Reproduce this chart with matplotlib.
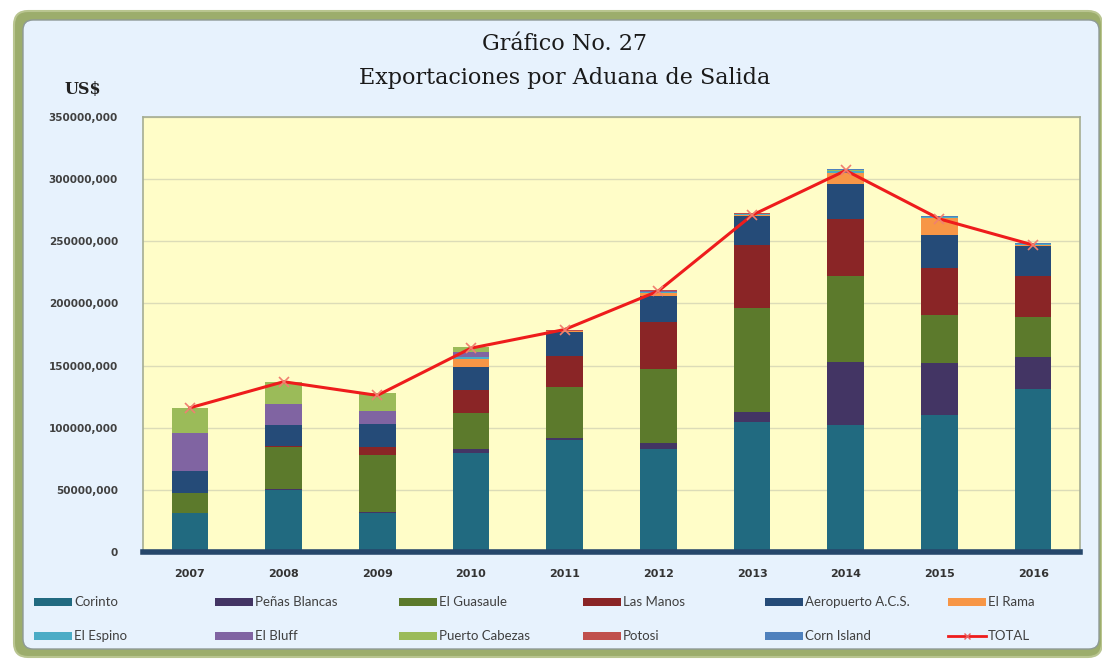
import numpy as np
import matplotlib
matplotlib.use("Agg")
import matplotlib.pyplot as plt
from matplotlib.patches import FancyBboxPatch, Rectangle
from matplotlib.lines import Line2D
from matplotlib.transforms import IdentityTransform

# Years and customs offices (values in millions of US$)
years = ["2007", "2008", "2009", "2010", "2011", "2012", "2013", "2014", "2015", "2016"]

corinto        = [31.0, 49.5, 31.2, 79.5, 90.2, 82.7, 104.9, 102.3, 110.3, 131.0]
penas_blancas  = [0.5, 0.8, 1.3, 3.2, 1.3, 4.8, 8.0, 50.9, 41.6, 25.8]
el_guasaule    = [16.0, 34.5, 45.6, 29.0, 41.1, 59.6, 83.3, 69.0, 38.9, 32.2]
las_manos      = [0.3, 0.5, 6.7, 18.7, 24.7, 38.3, 51.0, 45.7, 37.6, 33.2]
aeropuerto     = [17.0, 16.5, 18.3, 18.8, 20.1, 20.7, 22.8, 28.4, 26.8, 23.7]
el_rama        = [0.0, 0.0, 0.0, 5.9, 0.4, 2.5, 1.2, 8.6, 13.5, 1.2]
el_espino      = [0.2, 0.2, 0.2, 1.5, 0.3, 0.8, 0.5, 1.5, 0.5, 0.4]
el_bluff       = [31.0, 17.0, 10.5, 4.5, 0.0, 0.3, 0.2, 0.3, 0.2, 0.2]
puerto_cabezas = [20.0, 17.5, 14.0, 3.5, 0.0, 0.5, 0.2, 0.3, 0.2, 0.2]
potosi         = [0.0, 0.2, 0.0, 0.3, 0.2, 0.4, 0.3, 0.4, 0.3, 0.3]
corn_island    = [0.1, 0.2, 0.3, 0.3, 0.5, 0.5, 0.5, 1.0, 0.3, 0.5]
total          = [116.0, 137.0, 126.0, 164.0, 179.0, 210.0, 271.0, 307.0, 268.0, 247.0]

series_names = ["Corinto", "Peñas Blancas", "El Guasaule", "Las Manos", "Aeropuerto A.C.S.",
                "El Rama", "El Espino", "El Bluff", "Puerto Cabezas", "Potosi", "Corn Island"]
series_vals = [corinto, penas_blancas, el_guasaule, las_manos, aeropuerto, el_rama,
               el_espino, el_bluff, puerto_cabezas, potosi, corn_island]
colors = ["#216A80", "#433564", "#5C7A2C", "#8A2526", "#254B78", "#F79646",
          "#4BACC6", "#8064A2", "#9BBB59", "#C0504D", "#4F81BD"]

yticks = [0, 50, 100, 150, 200, 250, 300, 350]
ytick_labels = ["0", "50000,000", "100000,000", "150000,000", "200000,000",
                "250000,000", "300000,000", "350000,000"]

fig = plt.figure(figsize=(11.02, 6.59), dpi=100)
fig.patch.set_facecolor("white")

# outer rounded frame (pixel coordinates), kept behind the axes
fig.patches.append(FancyBboxPatch((14, 2), 1088, 646, boxstyle="round,pad=0,rounding_size=14",
                                  transform=IdentityTransform(), facecolor="#9CAD6C",
                                  edgecolor="#B9C590", linewidth=1.5, zorder=-10))
fig.patches.append(FancyBboxPatch((23, 10), 1076, 629, boxstyle="round,pad=0,rounding_size=10",
                                  transform=IdentityTransform(), facecolor="#E7F2FD",
                                  edgecolor="#8E9A96", linewidth=1.0, zorder=-9))

ax = fig.add_axes([143 / 1102, 1 - 552 / 659, 937 / 1102, 435 / 659])
ax.set_facecolor("#FFFDC8")

x = np.arange(len(years))
bottom = np.zeros(len(years))
for name, vals, c in zip(series_names, series_vals, colors):
    ax.bar(x, vals, 0.39, bottom=bottom, color=c, label=name, zorder=2)
    bottom += np.array(vals)

ax.plot(x, total, color="#EE1C1C", linewidth=2.2, marker="x", markersize=7,
        markeredgecolor="#F08070", markeredgewidth=1.2, zorder=3)

ax.set_xlim(-0.5, len(years) - 0.5)
ax.set_ylim(0, 350)
ax.set_yticks(yticks)
ax.set_yticklabels(ytick_labels, fontsize=7.5, fontweight="bold", color="#404040")
ax.set_xticks(x)
ax.set_xticklabels(years, fontsize=8, fontweight="bold", color="#333333")
ax.tick_params(length=0)
ax.tick_params(axis="y", pad=18)
ax.tick_params(axis="x", pad=12)
ax.grid(axis="y", color="#DCDCB8", linewidth=1.0, zorder=0)
ax.set_axisbelow(True)
for s in ["left", "top", "right"]:
    ax.spines[s].set_color("#A5AD92")
    ax.spines[s].set_linewidth(1.2)
ax.spines["bottom"].set_color("#26476B")
ax.spines["bottom"].set_linewidth(4)

# titles
fig.text(565 / 1102, 1 - 44 / 659, "Gráfico No. 27", ha="center", va="center",
         family="DejaVu Serif", fontsize=16, color="#1A1A1A")
fig.text(565 / 1102, 1 - 78 / 659, "Exportaciones por Aduana de Salida", ha="center", va="center",
         family="DejaVu Serif", fontsize=16, color="#1A1A1A")
fig.text(83 / 1102, 1 - 89 / 659, "US$", ha="center", va="center",
         family="DejaVu Serif", fontsize=11.5, fontweight="bold", color="#222222")

# legend laid out in two rows of six, like the original
leg_names = series_names + ["TOTAL"]
leg_colors = colors + ["#EE1C1C"]
col_x = [34, 215, 399, 583, 765, 948]
row_y = [602, 636]
for i, (name, c) in enumerate(zip(leg_names, leg_colors)):
    px = col_x[i % 6]
    py = row_y[i // 6]
    if name == "TOTAL":
        fig.add_artist(Line2D([px / 1102, (px + 19) / 1102, (px + 38) / 1102],
                              [1 - py / 659] * 3, color=c, linewidth=2, marker="x",
                              markevery=[1], markersize=5, markeredgecolor="#E86060"))
    else:
        fig.add_artist(Rectangle((px / 1102, 1 - (py + 4) / 659), 38 / 1102, 8 / 659,
                                 transform=fig.transFigure, facecolor=c, edgecolor="none"))
    fig.text((px + 40) / 1102, 1 - py / 659, name, ha="left", va="center",
             family="Lato", fontsize=9.5, color="#404040")

fig.savefig("out.png", dpi=100, facecolor=fig.get_facecolor())
